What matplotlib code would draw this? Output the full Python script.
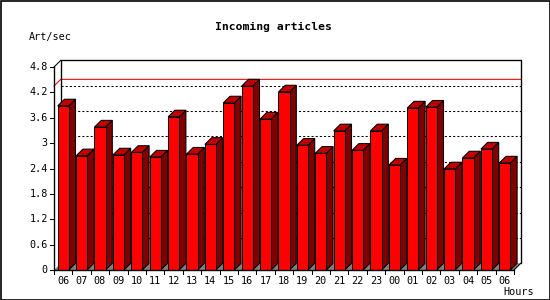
# Incoming articles, 3D style bar chart
import matplotlib.pyplot as plt
import matplotlib.patches as patches
import numpy as np

hours = ['06', '07', '08', '09', '10', '11', '12', '13', '14', '15', '16', '17', '18',
         '19', '20', '21', '22', '23', '00', '01', '02', '03', '04', '05', '06']
rates = [3.88, 2.70, 3.38, 2.72, 2.78, 2.67, 3.62, 2.74, 2.97, 3.95, 4.35, 3.57, 4.21,
         2.95, 2.76, 3.29, 2.83, 3.29, 2.48, 3.83, 3.85, 2.39, 2.65, 2.86, 2.53]
yticks = [0, 0.6, 1.2, 1.8, 2.4, 3.0, 3.6, 4.2, 4.8]

W, H = 550, 300
fig = plt.figure(figsize=(W / 100, H / 100), dpi=100)
fig.patch.set_facecolor('white')

# front plane of the chart in pixels
left, right, bottom, top = 54, 514, 270, 67
ax = fig.add_axes([left / W, (H - bottom) / H, (right - left) / W, (bottom - top) / H])
n = len(rates)
ymax = 4.8
ax.set_xlim(0, n)
ax.set_ylim(0, ymax)
ax.axis('off')

px_x = n / (right - left)       # data units per pixel
px_y = ymax / (bottom - top)
dx = 6.8 * px_x                 # depth offset
dy = 6.7 * px_y
lw = 0.75
mono = 'DejaVu Sans Mono'

# grey floor
ax.add_patch(patches.Polygon([(0, 0), (n, 0), (n + dx, dy), (dx, dy)],
                             closed=True, facecolor='#808080', edgecolor='none',
                             clip_on=False, zorder=1))

# dotted grid on back wall
for v in yticks[1:-1]:
    ax.plot([dx, n + dx], [v + dy, v + dy], color='black', lw=lw,
            dashes=(2, 2), clip_on=False, zorder=1)

# max line
vmax = max(rates)
ax.plot([0, dx, n + dx], [vmax, vmax + dy, vmax + dy], color='#e00000', lw=lw,
        clip_on=False, zorder=1)

# back wall frame
ax.plot([dx, dx, n + dx, n + dx], [dy, ymax + dy, ymax + dy, dy], color='black',
        lw=lw * 1.3, clip_on=False, zorder=1)
ax.plot([0, dx], [ymax, ymax + dy], color='black', lw=lw, clip_on=False, zorder=1)
ax.plot([n, n + dx], [0, dy], color='black', lw=lw, clip_on=False, zorder=1)

# bars
bw = 0.6
xpos = np.arange(n) + 0.5
for i, v in enumerate(rates):
    x0 = xpos[i] - bw / 2
    x1 = xpos[i] + bw / 2
    ax.add_patch(patches.Polygon([(x1, 0), (x1 + dx, dy), (x1 + dx, v + dy), (x1, v)],
                                 closed=True, facecolor='#800000', edgecolor='black',
                                 lw=lw, clip_on=False, zorder=3 + i))
    ax.add_patch(patches.Polygon([(x0, v), (x1, v), (x1 + dx, v + dy), (x0 + dx, v + dy)],
                                 closed=True, facecolor='#c00000', edgecolor='black',
                                 lw=lw, clip_on=False, zorder=3 + i))
    ax.add_patch(patches.Rectangle((x0, 0), bw, v, facecolor='#ff0000',
                                   edgecolor='black', lw=lw, clip_on=False, zorder=3 + i))

# front axes
ax.plot([0, 0], [0, ymax], color='black', lw=lw * 1.3, clip_on=False, zorder=40)
ax.plot([0, n], [0, 0], color='black', lw=lw * 1.3, clip_on=False, zorder=40)
for v in yticks:
    ax.plot([-4 * px_x, 0], [v, v], color='black', lw=lw, clip_on=False, zorder=40)
    ax.text(-6 * px_x, v, '{:g}'.format(v), ha='right', va='center',
            fontsize=7.3, family=mono)
for i in range(n + 1):
    ax.plot([i, i], [0, -4 * px_y], color='black', lw=lw, clip_on=False, zorder=40)
for i, h in enumerate(hours):
    ax.text(xpos[i], -11 * px_y, h, ha='center', va='center', fontsize=7.3, family=mono)

# titles
fig.text(273 / W, 1 - 27 / H, 'Incoming articles', ha='center', va='center',
         fontsize=8.2, fontweight='bold', family=mono)
fig.text(29 / W, 1 - 37 / H, 'Art/sec', ha='left', va='center', fontsize=7.3, family=mono)
fig.text(519 / W, 1 - 292 / H, 'Hours', ha='center', va='center', fontsize=7.3, family=mono)

# outer frame
fig.add_artist(patches.Rectangle((0.5 / W, 0.5 / H), 1 - 1 / W, 1 - 1 / H,
                                 transform=fig.transFigure, fill=False,
                                 edgecolor='black', lw=1.2))

plt.savefig('out.png', dpi=100)
plt.close()
